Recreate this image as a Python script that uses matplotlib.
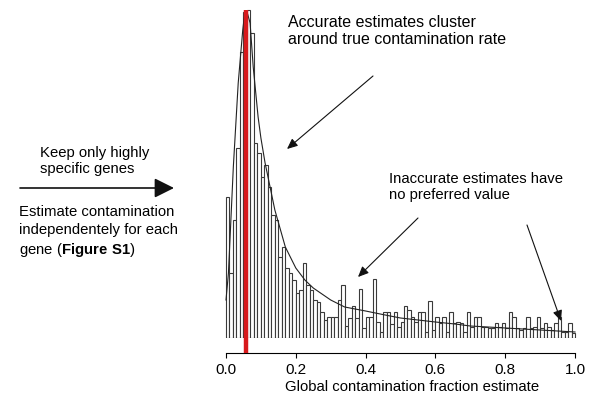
import matplotlib
matplotlib.use("Agg")
import matplotlib.pyplot as plt
from matplotlib.patches import FancyArrowPatch
import numpy as np

plt.rcParams['font.family'] = ['Liberation Sans', 'DejaVu Sans']
plt.rcParams['mathtext.fontset'] = 'custom'
plt.rcParams['mathtext.rm'] = 'Liberation Sans'
plt.rcParams['mathtext.bf'] = 'Liberation Sans:bold'

W, H = 590, 404

# per-gene contamination estimates, counted in bins of width 0.01
bin_width = 0.01
counts = [141, 65, 118, 190, 286, 326, 328, 305, 195, 185,
          161, 173, 151, 123, 118, 81, 91, 70, 65, 58,
          45, 48, 75, 53, 48, 38, 36, 26, 18, 21,
          21, 21, 38, 53, 12, 20, 32, 20, 49, 10,
          21, 21, 59, 16, 6, 26, 26, 14, 26, 11,
          16, 32, 28, 21, 16, 26, 26, 6, 37, 8,
          21, 15, 21, 6, 26, 15, 16, 15, 6, 26,
          11, 21, 21, 11, 11, 10, 10, 15, 11, 15,
          10, 26, 21, 10, 8, 10, 21, 10, 11, 21,
          10, 15, 11, 8, 15, 21, 6, 6, 15, 5]

# fitted density, same scale as the counts
curve_x = [0.0, 0.007, 0.021, 0.035, 0.048, 0.052, 0.057, 0.062, 0.069, 0.078,
           0.092, 0.1, 0.112, 0.14, 0.17, 0.2, 0.226, 0.25, 0.3, 0.34,
           0.4, 0.456, 0.5, 0.6, 0.656, 0.7, 0.8, 0.9, 1.0]
curve_y = [38, 65, 171, 255, 308, 320, 326, 324, 315, 271,
           221, 200, 175, 128, 91, 70, 58, 50, 38, 31,
           27, 23, 20, 16, 14, 12, 10, 8, 6]

true_rate = 0.056
xticks = [0.0, 0.2, 0.4, 0.6, 0.8, 1.0]


def fx(x):
    return x / W


def fy(y):
    return 1 - y / H


fig = plt.figure(figsize=(W / 100, H / 100), dpi=100)
ax = fig.add_axes([fx(226 - 0.01 * 349), fy(338), 1.02 * 349 / W, 330 / H])

left_edges = np.arange(len(counts)) * bin_width
ax.bar(left_edges, counts, width=bin_width, align='edge', color='white',
       edgecolor='#3a3a3a', linewidth=0.8)
ax.plot(curve_x, curve_y, color='#222222', linewidth=0.8)
ax.plot([true_rate, true_rate], [-15, 328], color='#d7191c', linewidth=3.2,
        clip_on=False, solid_capstyle='butt', zorder=5)

ax.set_xlim(-0.01, 1.01)
ax.set_ylim(0, 330)
for s in ['left', 'right', 'top']:
    ax.spines[s].set_visible(False)
ax.spines['bottom'].set_position(('data', -15))
ax.spines['bottom'].set_bounds(0, 1)
ax.spines['bottom'].set_linewidth(0.8)
ax.set_yticks([])
ax.set_xticks(xticks)
ax.set_xticklabels([f"{t:.1f}" for t in xticks])
ax.tick_params(axis='x', direction='out', length=3.6, width=0.8, pad=3.5,
               labelsize=11)

fig.text(fx(412), fy(387), "Global contamination fraction estimate",
         ha='center', va='center', fontsize=10.7)

fig.text(fx(288), fy(31), "Accurate estimates cluster\naround true contamination rate",
         ha='left', va='center', fontsize=11.5, linespacing=1.2)
fig.text(fx(389), fy(187), "Inaccurate estimates have\nno preferred value",
         ha='left', va='center', fontsize=10.7, linespacing=1.2)
fig.text(fx(40), fy(161), "Keep only highly\nspecific genes",
         ha='left', va='center', fontsize=10.7, linespacing=1.2)
fig.text(fx(19), fy(232),
         "Estimate contamination\nindependentely for each\ngene ($\\bf{Figure\\ S1}$)",
         ha='left', va='center', fontsize=10.7, linespacing=1.3)


def arrow(p0, p1, lw=0.8, style='-|>,head_length=0.45,head_width=0.2', scale=14):
    a = FancyArrowPatch((fx(p0[0]), fy(p0[1])), (fx(p1[0]), fy(p1[1])),
                        transform=fig.transFigure, arrowstyle=style,
                        mutation_scale=scale, linewidth=lw, color='#111111',
                        shrinkA=0, shrinkB=0)
    fig.add_artist(a)


arrow((373, 76), (287, 149))
arrow((418, 218), (358, 277))
arrow((527, 225), (561, 321))
arrow((20, 188), (174, 188), lw=1.2,
      style='-|>,head_length=0.6,head_width=0.3', scale=20)

fig.savefig("out.png", dpi=100)
